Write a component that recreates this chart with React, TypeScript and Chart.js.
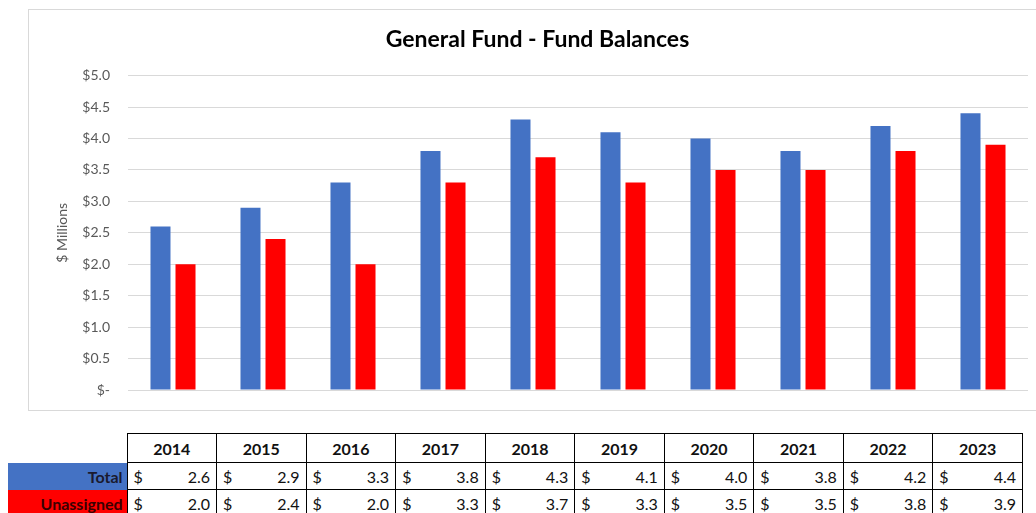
import React, { useEffect, useRef } from "react";
import { Chart, registerables } from "chart.js";

Chart.register(...registerables);

const years = ["2014", "2015", "2016", "2017", "2018", "2019", "2020", "2021", "2022", "2023"];
const totalValues = [2.6, 2.9, 3.3, 3.8, 4.3, 4.1, 4.0, 3.8, 4.2, 4.4];
const unassignedValues = [2.0, 2.4, 2.0, 3.3, 3.7, 3.3, 3.5, 3.5, 3.8, 3.9];
const seriesNames = ["Total", "Unassigned"];
const chartTitle = "General Fund - Fund Balances";
const yAxisTitle = "$ Millions";

const BLUE = "#4472C4";
const RED = "#FF0000";
const FONT = "Lato, 'Open Sans', sans-serif";

export default function App() {
  const canvasRef = useRef<HTMLCanvasElement | null>(null);

  useEffect(() => {
    if (!canvasRef.current) return;
    const chart = new Chart(canvasRef.current, {
      type: "bar",
      data: {
        labels: years,
        datasets: [
          { label: seriesNames[0], data: totalValues, backgroundColor: BLUE, barPercentage: 0.8, categoryPercentage: 0.556 },
          { label: seriesNames[1], data: unassignedValues, backgroundColor: RED, barPercentage: 0.8, categoryPercentage: 0.556 },
        ],
      },
      options: {
        animation: false,
        responsive: false,
        maintainAspectRatio: false,
        layout: { padding: { left: 18, right: 19, top: 0, bottom: 20 } },
        plugins: {
          legend: { display: false },
          tooltip: { enabled: false },
          title: {
            display: true,
            text: chartTitle,
            color: "#000000",
            font: { family: FONT, size: 23, weight: "bold" },
            padding: { top: 16, bottom: 22 },
          },
        },
        scales: {
          x: {
            display: false,
          },
          y: {
            min: 0,
            max: 5,
            ticks: {
              stepSize: 0.5,
              color: "#595959",
              font: { family: FONT, size: 14 },
              padding: 18,
              callback: (v: any) => (Number(v) === 0 ? "$-" : "$" + Number(v).toFixed(1)),
            },
            grid: { color: "#d9d9d9", lineWidth: 1, drawTicks: false },
            border: { display: false },
            title: {
              display: true,
              text: yAxisTitle,
              color: "#595959",
              font: { family: FONT, size: 14 },
              padding: { top: 7, bottom: 0 },
            },
            afterFit: (s: any) => {
              s.width = 81;
              s.paddingTop = 0;
              s.paddingBottom = 0;
            },
          },
        },
      },
    });
    return () => chart.destroy();
  }, []);

  const cellBorder = "1px solid #000";
  const valueCell = (v: number, key: string) => (
    <td key={key} style={{ border: cellBorder, padding: "0 6px", fontFamily: FONT, fontSize: 16, color: "#111" }}>
      <div style={{ display: "flex", justifyContent: "space-between" }}>
        <span>$</span>
        <span>{v.toFixed(1)}</span>
      </div>
    </td>
  );

  return (
    <div style={{ position: "absolute", left: 0, top: 0, width: 1036, height: 513, overflow: "hidden", background: "#fff" }}>
      <div style={{ position: "absolute", left: 28, top: 9, width: 1030, height: 400, border: "1px solid #d9d9d9" }} />
      <canvas ref={canvasRef} width={1018} height={400} style={{ position: "absolute", left: 29, top: 10, width: 1018, height: 400 }} />
      <table
        style={{
          position: "absolute",
          left: 8,
          top: 433,
          width: 1015,
          borderCollapse: "collapse",
          tableLayout: "fixed",
        }}
      >
        <colgroup>
          <col style={{ width: 119 }} />
          {years.map((y) => (
            <col key={y} style={{ width: 89.5 }} />
          ))}
        </colgroup>
        <tbody>
          <tr style={{ height: 29 }}>
            <td style={{ border: "none" }} />
            {years.map((y) => (
              <td key={y} style={{ border: cellBorder, textAlign: "center", fontFamily: FONT, fontWeight: "bold", fontSize: 16, color: "#111" }}>
                {y}
              </td>
            ))}
          </tr>
          <tr style={{ height: 27 }}>
            <td style={{ border: "none", background: BLUE, textAlign: "right", padding: "0 4px", fontFamily: FONT, fontWeight: "bold", fontSize: 16, color: "#1a1a2e" }}>
              {seriesNames[0]}
            </td>
            {totalValues.map((v, i) => valueCell(v, "t" + i))}
          </tr>
          <tr style={{ height: 27 }}>
            <td style={{ border: "none", background: RED, textAlign: "right", padding: "0 4px", fontFamily: FONT, fontWeight: "bold", fontSize: 16, color: "#3a0000" }}>
              {seriesNames[1]}
            </td>
            {unassignedValues.map((v, i) => valueCell(v, "u" + i))}
          </tr>
        </tbody>
      </table>
    </div>
  );
}
